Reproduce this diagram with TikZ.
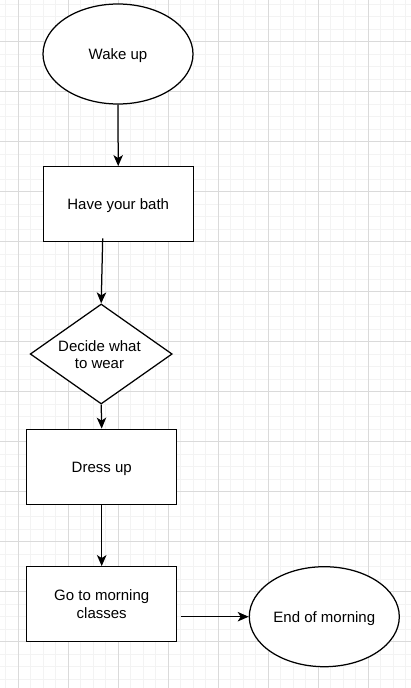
\documentclass[tikz,border=0pt]{standalone}
\usepackage{fontspec}
\setmainfont{Liberation Sans}
\usetikzlibrary{shapes.geometric,arrows.meta}
\definecolor{gridminor}{HTML}{F3F3F3}
\definecolor{gridmajor}{HTML}{DADADA}
\tikzset{
  base/.style={draw=black, line width=1.25pt, fill=white, inner sep=0pt,
    font=\fontsize{15}{17.5}\selectfont, align=center},
  oneline/.style={text height=11pt, text depth=0.4pt},
  oval/.style={base, ellipse, minimum width=150pt, minimum height=100pt},
  box/.style={base, rectangle, minimum width=150pt, minimum height=75pt},
  decision/.style={base, diamond, minimum width=142pt, minimum height=100pt},
  lbl/.style={inner sep=0pt, font=\fontsize{15}{17.5}\selectfont, align=center},
  conn/.style={draw=black, line width=1.25pt, -{Stealth[length=11pt,width=9.5pt,inset=3pt]}}
}
\begin{document}
\begin{tikzpicture}[x=1pt,y=-1pt]
\useasboundingbox (0,0) rectangle (411,688);
\fill[white] (0,0) rectangle (411,688);
% grid
\foreach \k in {0,...,32} {\draw[gridminor, line width=1pt] ({5.83+12.5*\k},0) -- ({5.83+12.5*\k},688);}
\foreach \k in {0,...,54} {\draw[gridminor, line width=1pt] (0,{4.17+12.5*\k}) -- (411,{4.17+12.5*\k});}
\foreach \k in {0,...,7} {\draw[gridmajor, line width=1pt] ({18.33+50*\k},0) -- ({18.33+50*\k},688);}
\foreach \k in {0,...,12} {\draw[gridmajor, line width=1pt] (0,{41.67+50*\k}) -- (411,{41.67+50*\k});}
% nodes
\node[oval, oneline] (wake) at (118,54) {Wake up};
\node[box, oneline] (bath) at (118.2,204.2) {Have your bath};
\node[decision] (decide) at (101.2,354) {};
\node[lbl] (decidetxt) at (99.5,354.5) {Decide what\\to wear};
\node[box, oneline] (dress) at (101.7,466.7) {Dress up};
\node[box] (go) at (101.7,604.2) {Go to morning\\classes};
\node[oval, oneline] (end) at (324.3,616.7) {End of morning};
\coordinate (bathout) at (102.7,238.3);
\coordinate (goout) at (180.7,616.7);
% connectors
\draw[conn] (wake.south) -- (bath.north);
\draw[conn] (bathout) -- (decide.north);
\draw[conn] (decide.south) -- (dress.north);
\draw[conn] (dress.south) -- (go.north);
\draw[conn] (goout) -- (end.west);
\end{tikzpicture}
\end{document}
